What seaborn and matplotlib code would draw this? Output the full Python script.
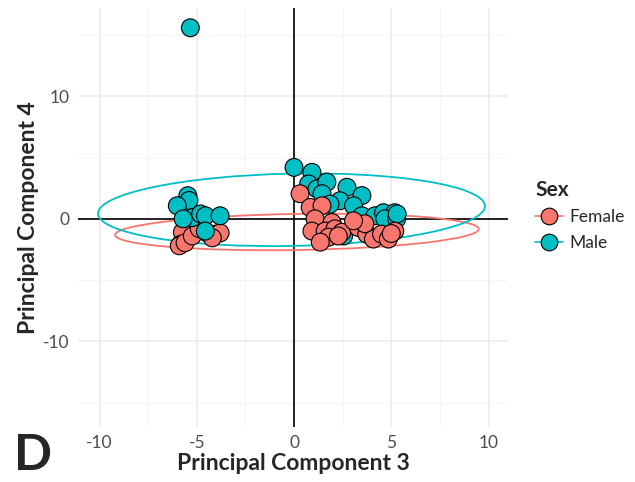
import matplotlib
matplotlib.use('Agg')
import matplotlib.pyplot as plt
import seaborn as sns
import pandas as pd
from matplotlib.patches import Ellipse
from matplotlib.lines import Line2D
from matplotlib.ticker import MultipleLocator

# PC3 / PC4 scores
female_pc3 = [-5.74, -5.85, -5.9, -5.6, -5.23, -4.46, -4.05, -3.8, -4.2, -4.87,
              0.31, 0.83, 1.44, 1.08, 1.95, 0.92, 1.6, 2.1, 2.46, 1.77,
              1.35, 2.28, 3.3, 3.74, 4.08, 4.5, 5.18, 4.85, 3.64, 3.06, 5.0]
female_pc4 = [-1.1, -2.1, -2.2, -1.95, -1.4, -1.15, -1.25, -1.15, -1.55, -0.8,
              2.05, 0.93, 1.07, 0.0, -0.3, -1.0, -1.0, -0.82, -1.1, -1.5,
              -1.9, -1.4, -0.7, -1.25, -1.65, -1.25, -1.0, -1.65, -0.4, -0.16, -1.2]
male_pc3 = [-5.33, -5.46, -5.4, -6.0, -5.23, -4.8, -4.55, -3.8, -4.56, -5.7,
            0.0, 0.92, 0.75, 1.18, 1.69, 1.44, 2.72, 3.49, 2.36, 3.06,
            1.85, 3.49, 4.16, 4.6, 5.18, 4.67, 5.28, 2.55, 5.3]
male_pc4 = [15.6, 1.89, 1.5, 1.07, 0.1, 0.4, 0.25, 0.25, -1.0, 0.0,
            4.2, 3.8, 2.85, 2.45, 3.0, 2.05, 2.58, 1.9, 1.48, 1.07,
            1.2, 0.25, 0.25, 0.5, 0.5, 0.0, 0.0, -1.4, 0.4]

# 95% ellipses: centre, full width, full height, angle
ell_sex = ['Female', 'Male']
ell_cx = [0.15, -0.13]
ell_cy = [-1.07, 0.74]
ell_w = [18.7, 19.9]
ell_h = [2.95, 5.9]
ell_angle = [1.5, 1.9]

palette = {'Female': '#F8766D', 'Male': '#00BFC4'}

df = pd.DataFrame({
    'PC3': female_pc3 + male_pc3,
    'PC4': female_pc4 + male_pc4,
    'Sex': ['Female'] * len(female_pc3) + ['Male'] * len(male_pc3),
})
# drawing order: in the right-hand cluster the female points sit on top
df['top'] = (df.PC3 > 0) & (df.Sex == 'Female')
df = df.sort_values('top', kind='stable')

sns.set_style('white')
plt.rcParams['font.family'] = ['Lato', 'DejaVu Sans']
plt.rcParams['axes.unicode_minus'] = False

fig = plt.figure(figsize=(6.35, 4.82), dpi=100)
ax = fig.add_axes([0.123, 0.114, 0.677, 0.869])

ax.set_xlim(-11.1, 11.0)
ax.set_ylim(-17.0, 17.2)
ax.xaxis.set_major_locator(MultipleLocator(5))
ax.xaxis.set_minor_locator(MultipleLocator(2.5))
ax.yaxis.set_major_locator(MultipleLocator(10))
ax.yaxis.set_minor_locator(MultipleLocator(5))
ax.grid(which='major', color='#ebebeb', linewidth=1.1)
ax.grid(which='minor', color='#f3f3f3', linewidth=0.6)
ax.set_axisbelow(True)
for s in ax.spines.values():
    s.set_visible(False)
ax.tick_params(which='both', length=0, labelsize=12.5, labelcolor='#4d4d4d', pad=6)

ax.axhline(0, color='black', linewidth=1.2, zorder=1)
ax.axvline(0, color='black', linewidth=1.2, zorder=1)

for sex, cx, cy, w, h, a in zip(ell_sex, ell_cx, ell_cy, ell_w, ell_h, ell_angle):
    ax.add_patch(Ellipse((cx, cy), w, h, angle=a, fill=False,
                         edgecolor=palette[sex], linewidth=1.3, zorder=2))

sns.scatterplot(data=df, x='PC3', y='PC4', hue='Sex', palette=palette,
                s=165, edgecolor='black', linewidth=0.8, alpha=1,
                legend=False, ax=ax, zorder=3)

ax.set_xlabel('Principal Component 3', fontsize=16.5, fontweight='bold', labelpad=1)
ax.set_ylabel('Principal Component 4', fontsize=16.5, fontweight='bold', labelpad=3)

handles = [Line2D([0], [0], color=palette[k], marker='o', markersize=12,
                  markeredgecolor='black', markeredgewidth=0.8, linewidth=1.2,
                  label=k) for k in ['Female', 'Male']]
leg = fig.legend(handles=handles, title='Sex', loc='upper left',
                 bbox_to_anchor=(0.818, 0.66), frameon=False, fontsize=12.5,
                 title_fontsize=15, handlelength=1.6, handletextpad=0.35,
                 labelspacing=0.55, alignment='left')
leg.get_title().set_fontweight('bold')

fig.text(0.022, 0.025, 'D', fontsize=36, fontweight='bold')

fig.savefig('out.png', dpi=100)
